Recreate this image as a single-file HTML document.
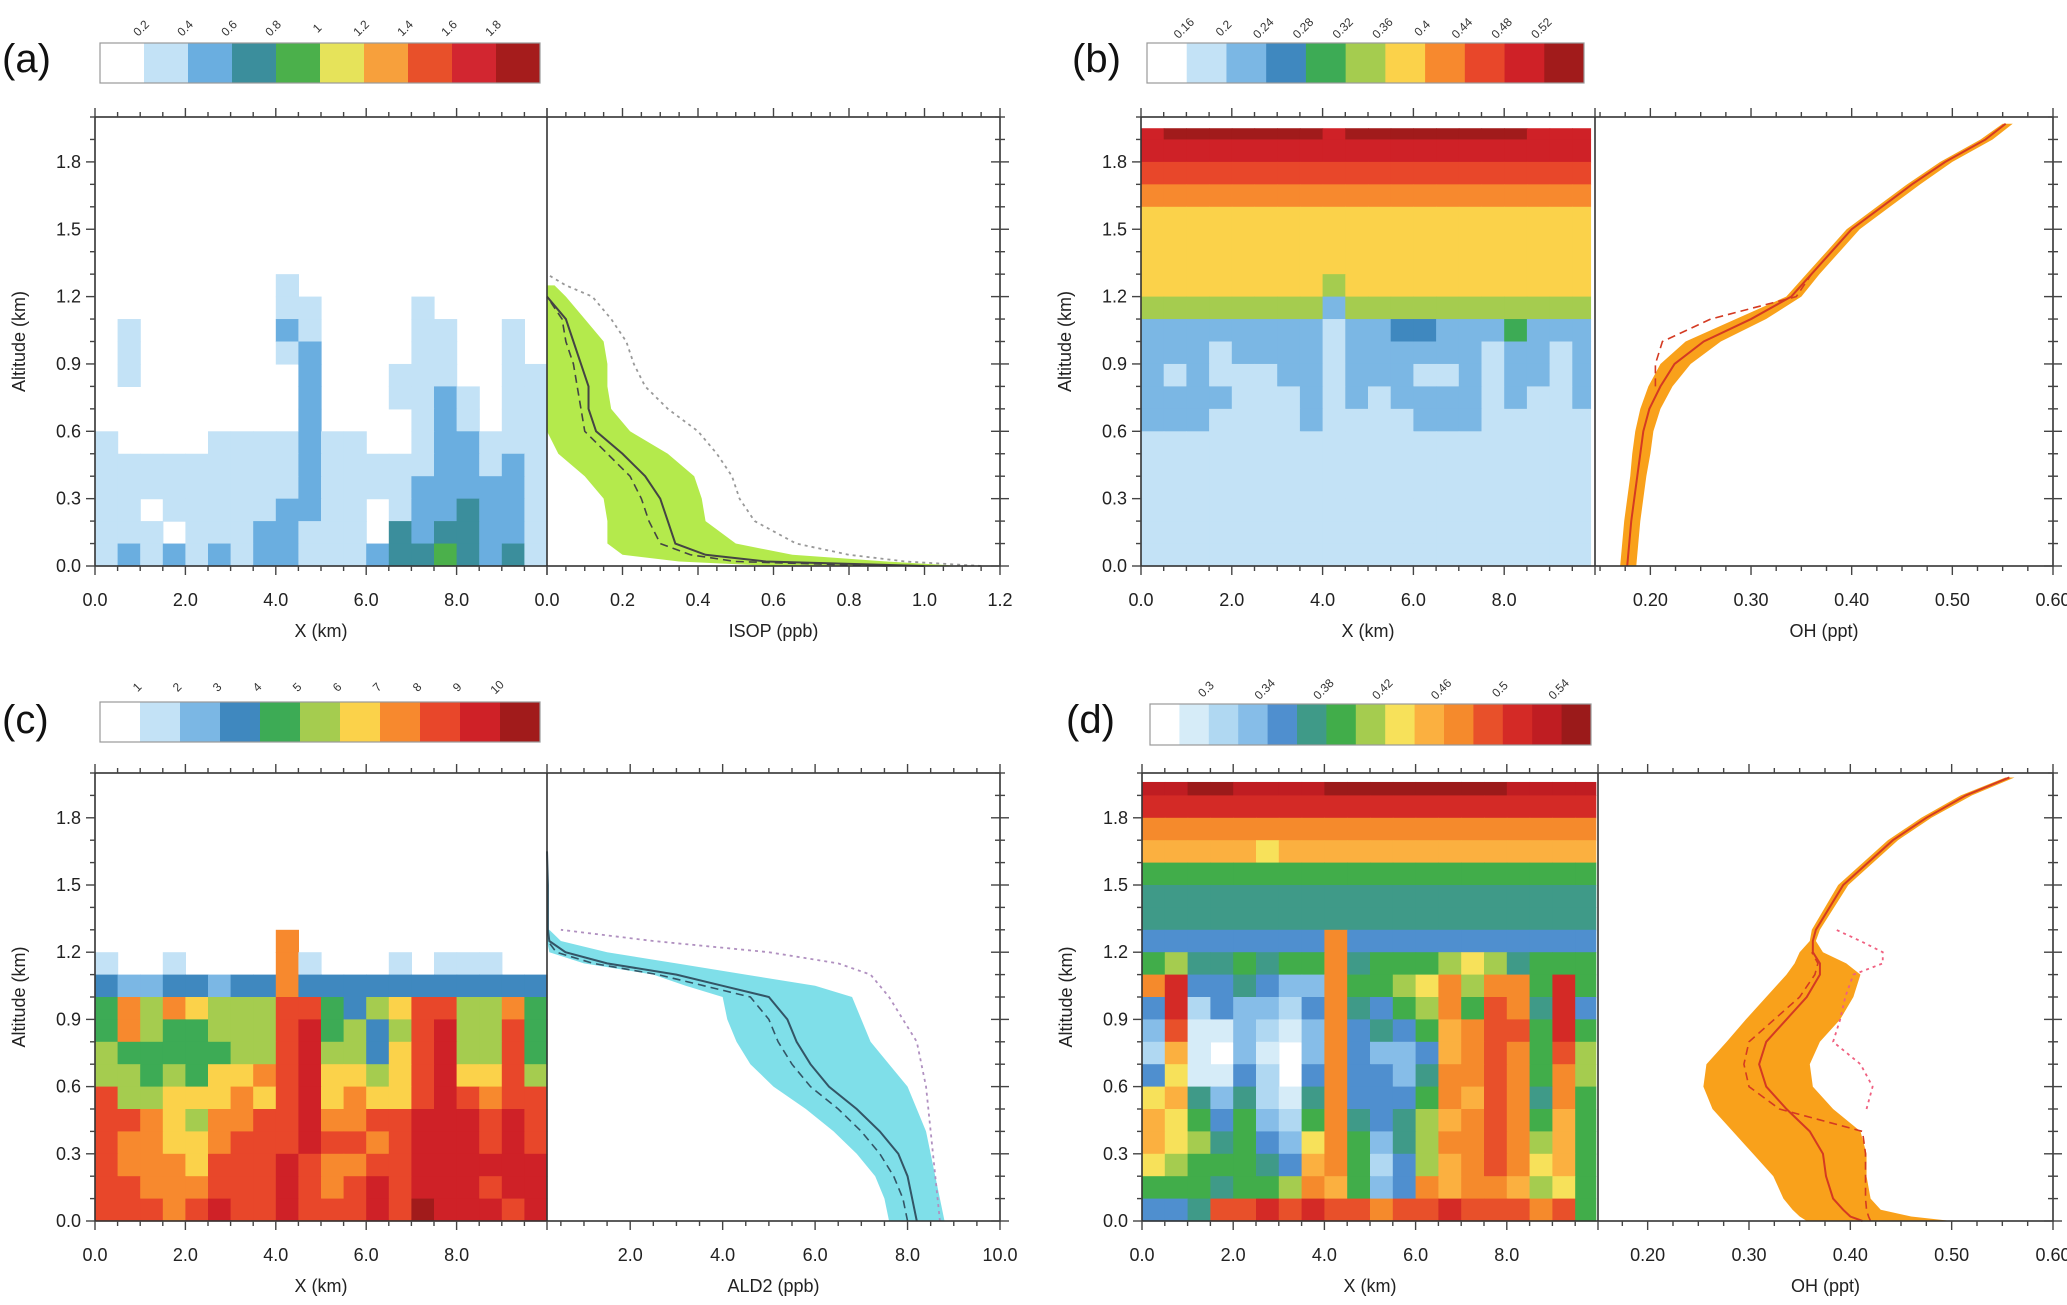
<!DOCTYPE html>
<html><head><meta charset="utf-8"><style>
html,body{margin:0;padding:0;background:#fff;}
svg{display:block;font-family:"Liberation Sans",sans-serif;}
</style></head><body>
<svg id="fig" xmlns="http://www.w3.org/2000/svg" width="2067" height="1305" viewBox="0 0 2067 1305"></svg>
<script>
// ---------- Heatmap data (rows top 2.0 km -> bottom, 0.1 km each; 20 cols of 0.5 km; hex level index) ----------
const aRows=["00000000000000000000","00000000000000000000","00000000000000000000","00000000000000000000","00000000000000000000","00000000000000000000","00000000000000000000","00000000100000000000","00000000110000100000","01000000210000110010","01000000120000110010","01000000020001110011","00000000020001121011","00000000020000121011","10000111121100122111","11111111121111122121","11111111121111222221","11011111221101223221","11101112211103233221","12121212211123343231"];
const bRows=["9aaaaaaa9aaaaaaaa999","99999999999999999999","88888888888888888888","77777777777777777777","66666666666666666666","66666666666666666666","66666666666666666666","66666666566666666666","55555555255555555555","22222222122332224222","22212222122222212212","21211122122211212212","22221112121222212112","22211112111122211111","11111111111111111111","11111111111111111111","11111111111111111111","11111111111111111111","11111111111111111111","11111111111111111111"];
const cRows=["00000000000000000000","00000000000000000000","00000000000000000000","00000000000000000000","00000000000000000000","00000000000000000000","00000000000000000000","00000000700000000000","10010000710001011100","32233233733333333333","47576555884356885574","47544555894535895584","54444455895536895584","55454667896656896685","85566676896766898788","88765778897788999898","87766788898878999898","87776888987788999999","88777888987898999899","88878988988898a99989"];
const dRows=["ddeeddddeeeeeeeedddd","cccccccccccccccccccc","aaaaaaaaaaaaaaaaaaaa","99999899999999999999","66666666666666666666","55555555555555555555","55555555555555555555","44444444a44444444444","67556566a56667875666","ac445433a6678a7aa6c6","4c243324a5467a6ba5c4","3b113213a45469abb6c6","29103103a43349aba6b7","48114204a4435aaba6a7","89535215a4446a9ba5a6","98646326a54579aba696","98756438a6357aaba796","87666549a62479aba896","6665667a9634a9aa9786","445bbcbcbbabbcbbbab6"];
// ---------- Profile data ----------
const aAlt =[0,0.02,0.05,0.1,0.2,0.3,0.4,0.5,0.6,0.7,0.8,0.9,1.0,1.1,1.2,1.25,1.3];
const aMean=[1.0,0.58,0.42,0.34,0.32,0.30,0.26,0.20,0.13,0.11,0.11,0.09,0.07,0.05,0.0,null,null];
const aDash=[0.9,0.5,0.38,0.30,0.27,0.25,0.22,0.16,0.10,0.09,0.08,0.07,0.05,0.04,0.0,null,null];
const aLo  =[0.6,0.35,0.2,0.16,0.16,0.15,0.10,0.03,0.0,0,0,0,0,0,0,0,null];
const aHi  =[1.1,0.9,0.65,0.5,0.42,0.41,0.39,0.32,0.22,0.17,0.16,0.16,0.15,0.10,0.05,0.02,null];
const aDot =[1.15,0.95,0.8,0.66,0.55,0.51,0.49,0.45,0.40,0.32,0.26,0.23,0.21,0.17,0.12,0.05,0.0];
const bAlt =[0,0.1,0.2,0.3,0.4,0.5,0.6,0.7,0.8,0.9,1.0,1.1,1.2,1.3,1.4,1.5,1.6,1.7,1.8,1.9,1.97];
const bMean=[0.177,0.179,0.181,0.184,0.187,0.19,0.193,0.199,0.21,0.224,0.253,0.30,0.34,0.36,0.38,0.40,0.43,0.46,0.493,0.533,0.553];
const bLo  =[0.170,0.172,0.174,0.177,0.18,0.182,0.185,0.19,0.198,0.21,0.235,0.285,0.335,0.355,0.375,0.395,0.425,0.455,0.488,0.528,0.55];
const bHi  =[0.186,0.188,0.19,0.193,0.196,0.2,0.203,0.21,0.222,0.24,0.27,0.315,0.35,0.368,0.388,0.408,0.438,0.468,0.5,0.54,0.56];
const bDash=[null,null,null,null,null,null,null,null,0.205,0.205,0.212,0.26,0.345,0.36,null,null,null,null,null,null,null];
const bDot =[null,null,null,null,null,null,null,null,null,null,null,null,null,null,null,null,null,null,null,null,null];
const cAlt =[0,0.1,0.2,0.3,0.4,0.5,0.6,0.7,0.8,0.9,1.0,1.05,1.1,1.15,1.2,1.25,1.3,1.5,1.65];
const cMean=[8.2,8.1,8.0,7.8,7.4,6.9,6.3,5.9,5.6,5.4,5.0,4.0,3.0,1.5,0.6,0.25,0.22,0.22,0.2];
const cDash=[8.0,7.9,7.7,7.4,7.0,6.5,5.9,5.5,5.2,5.0,4.6,3.6,2.6,1.2,0.4,0.22,null,null,null];
const cLo  =[7.6,7.5,7.3,6.9,6.4,5.8,5.1,4.6,4.3,4.1,4.0,3.2,2.5,1.0,0.25,0.2,0.2,null,null];
const cHi  =[8.8,8.7,8.6,8.5,8.4,8.2,8.0,7.6,7.2,7.0,6.8,6.0,4.5,3.0,1.5,0.5,0.25,null,null];
const cDot =[8.7,8.65,8.6,8.55,8.5,8.45,8.4,8.3,8.2,7.9,7.6,7.4,7.2,6.5,5.0,2.5,0.5,null,null];
const dAlt =[0,0.02,0.05,0.1,0.2,0.3,0.4,0.5,0.6,0.7,0.8,0.9,1.0,1.1,1.15,1.2,1.25,1.3,1.5,1.7,1.8,1.9,1.98];
const dMean=[0.412,0.40,0.393,0.383,0.376,0.373,0.36,0.337,0.317,0.31,0.317,0.337,0.357,0.37,0.37,0.363,0.363,0.366,0.393,0.442,0.475,0.514,0.557];
const dLo  =[0.357,0.35,0.343,0.334,0.324,0.304,0.284,0.264,0.255,0.258,0.278,0.297,0.317,0.337,0.345,0.35,0.36,0.362,0.388,0.437,0.47,0.509,0.553];
const dHi  =[0.50,0.46,0.43,0.42,0.416,0.416,0.41,0.383,0.363,0.36,0.37,0.39,0.403,0.41,0.396,0.373,0.366,0.37,0.398,0.447,0.48,0.52,0.562];
const dDash=[0.42,0.418,0.416,0.415,0.415,0.415,0.412,0.33,0.30,0.295,0.30,0.325,0.35,0.365,0.368,0.362,null,null,null,null,null,null,null];
const dDot =[null,null,null,null,null,null,null,0.416,0.422,0.41,0.383,0.39,0.395,0.403,0.432,0.432,0.41,0.386,null,null,null,null,null];
// ---------- Colorbar labels ----------
const aCbLabels=["0.2","0.4","0.6","0.8","1","1.2","1.4","1.6","1.8"];
const bCbLabels=["0.16","0.2","0.24","0.28","0.32","0.36","0.4","0.44","0.48","0.52"];
const cCbLabels=["1","2","3","4","5","6","7","8","9","10"];
const dCbLabels=["","0.3","","0.34","","0.38","","0.42","","0.46","","0.5","","0.54"];
const leftTicks=[0,2,4,6,8];
const aRightTicks=[0,0.2,0.4,0.6,0.8,1.0,1.2];
const bRightTicks=[0.2,0.3,0.4,0.5,0.6];
const cRightTicks=[2,4,6,8,10];
const yTicks=[0,0.3,0.6,0.9,1.2,1.5,1.8];

// ---------- styles ----------
const palA=["#ffffff","#c3e2f6","#6aaee0","#3b8e9c","#4bb04b","#e6e35a","#f7a03c","#e8502a","#d22630","#a51c1c"];
const palB=["#ffffff","#c3e2f6","#7bb7e4","#3f88bf","#3dab55","#a5cc4f","#fbd24a","#f7892e","#e8472a","#cf2127","#a11b1b"];
const palD=["#ffffff","#d6ecf8","#b0d8f2","#86bde8","#4f8fcf","#3f9a88","#41ad4a","#a5cc4f","#f7e15a","#fbb040","#f58a2c","#e8502a","#d42a26","#bf1d22","#9b1a1a"];

const svg=document.getElementById('fig');
const NS="http://www.w3.org/2000/svg";
function mk(tag,attrs,parent){const e=document.createElementNS(NS,tag);for(const k in attrs)e.setAttribute(k,attrs[k]);(parent||svg).appendChild(e);return e;}

const panels=[
 {id:'a',l:95,d:547,r:1000,t:117,b:566,r0:0,r1:1.2,rows:aRows,pal:palA,hmTop:2.0,hmRight:10,
  alt:aAlt,mean:aMean,dash:aDash,lo:aLo,hi:aHi,dot:aDot,band:"#b4ea4c",line:"#444",dotc:"#999",rt:aRightTicks,rfmt:1,rminor:0.05,
  cb:{x:100,y:43,w:440,h:40},cbl:aCbLabels,lab:{x:2,y:72},xt:"ISOP (ppb)"},
 {id:'b',l:1141,d:1595,r:2053,t:117,b:566,r0:0.145,r1:0.6,rows:bRows,pal:palB,hmTop:1.95,hmRight:9.9,
  alt:bAlt,mean:bMean,dash:bDash,lo:bLo,hi:bHi,dot:bDot,band:"#f9a11b",line:"#d43a22",dotc:"#f06080",rt:bRightTicks,rfmt:2,rminor:0.025,
  cb:{x:1147,y:43,w:437,h:40},cbl:bCbLabels,lab:{x:1072,y:72},xt:"OH (ppt)"},
 {id:'c',l:95,d:547,r:1000,t:773,b:1221,r0:0.2,r1:10,rows:cRows,pal:palB,hmTop:2.0,hmRight:10,
  alt:cAlt,mean:cMean,dash:cDash,lo:cLo,hi:cHi,dot:cDot,band:"#7fdfe9",line:"#335566",dotc:"#b090c0",rt:cRightTicks,rfmt:1,rminor:0.5,
  cb:{x:100,y:702,w:440,h:40},cbl:cCbLabels,lab:{x:2,y:733},xt:"ALD2 (ppb)"},
 {id:'d',l:1142,d:1598,r:2053,t:773,b:1221,r0:0.151,r1:0.6,rows:dRows,pal:palD,hmTop:1.96,hmRight:9.95,
  alt:dAlt,mean:dMean,dash:dDash,lo:dLo,hi:dHi,dot:dDot,band:"#f9a11b",line:"#d43a22",dotc:"#f06080",rt:bRightTicks,rfmt:2,rminor:0.025,
  cb:{x:1150,y:704,w:441,h:41},cbl:dCbLabels,lab:{x:1066,y:733},xt:"OH (ppt)"}
];

panels.forEach(p=>{
  const g=mk('g',{});
  
  
  const xL=v=>p.l+v/10*(p.d-p.l);
  const xR=v=>p.d+(v-p.r0)/(p.r1-p.r0)*(p.r-p.d);
  const y=k=>p.b-k/2.0*(p.b-p.t);
  const hm=mk('g',{},g);
  
  
  p.rows.forEach((row,i)=>{
    const kTop=Math.min(2.0-0.1*i,p.hmTop), kBot=2.0-0.1*(i+1);
    if(kTop<=kBot) return;
    for(let j=0;j<20;j++){
      const lv=parseInt(row[j]||'0',16);
      if(lv===0) continue;
      const x0=0.5*j, x1=Math.min(0.5*(j+1),p.hmRight);
      if(x1<=x0) continue;
      const r=mk('rect',{x:xL(x0),y:y(kTop),width:xL(x1)-xL(x0)+0.6,height:y(kBot)-y(kTop)+0.6,fill:p.pal[lv]},hm);
      
      
    }
  });
  const hiPts=[],loPts=[];
  p.alt.forEach((a,i)=>{ if(p.hi[i]!=null) hiPts.push(xR(p.hi[i])+','+y(a)); if(p.lo[i]!=null) loPts.push(xR(p.lo[i])+','+y(a)); });
  const band=mk('polygon',{points:hiPts.concat(loPts.reverse()).join(' '),fill:p.band},g);
  
  
  function line(arr,attrs,name){
    const segs=[];let cur=[];
    p.alt.forEach((a,i)=>{ if(arr[i]==null){ if(cur.length) segs.push(cur); cur=[]; } else cur.push(xR(arr[i])+','+y(a)); });
    if(cur.length) segs.push(cur);
    segs.forEach(s=>{ const pl=mk('polyline',Object.assign({points:s.join(' '),fill:'none'},attrs),g);
      
       });
  }
  line(p.dot,{stroke:p.dotc,'stroke-width':1.8,'stroke-dasharray':'3,4'},'profile-dotted-line');
  line(p.dash,{stroke:p.line,'stroke-width':1.6,'stroke-dasharray':'8,5'},'profile-dashed-line');
  line(p.mean,{stroke:p.line,'stroke-width':2},'profile-mean-line');
  const fr=mk('rect',{x:p.l,y:p.t,width:p.r-p.l,height:p.b-p.t,fill:'none',stroke:'#333','stroke-width':1.6},g);
  
  
  const dv=mk('line',{x1:p.d,x2:p.d,y1:p.t,y2:p.b,stroke:'#333','stroke-width':1.6},g);
  
  
  const tk=mk('g',{stroke:'#444','stroke-width':1.4},g);
  
  
  for(let v=0;v<=10.001;v+=0.5){const X=xL(v);const maj=Math.abs(v/2-Math.round(v/2))<1e-6;const L=maj?9:5;
    mk('line',{x1:X,x2:X,y1:p.b,y2:p.b+L},tk);mk('line',{x1:X,x2:X,y1:p.t,y2:p.t-L},tk);}
  for(let v=Math.ceil(p.r0/p.rminor)*p.rminor;v<=p.r1+1e-6;v+=p.rminor){const X=xR(v);const st=p.rt[1]-p.rt[0];const maj=Math.abs(v/st-Math.round(v/st))<1e-4;const L=maj?9:5;
    mk('line',{x1:X,x2:X,y1:p.b,y2:p.b+L},tk);mk('line',{x1:X,x2:X,y1:p.t,y2:p.t-L},tk);}
  for(let k=0;k<=2.0001;k+=0.1){const Y=y(k);const maj=Math.abs(k/0.3-Math.round(k/0.3))<1e-4;const L=maj?9:5;
    mk('line',{x1:p.l-L,x2:p.l,y1:Y,y2:Y},tk);mk('line',{x1:p.r,x2:p.r+L,y1:Y,y2:Y},tk);mk('line',{x1:p.r-L,x2:p.r,y1:Y,y2:Y},tk);}
  const fs=18;
  yTicks.forEach(k=>{const t=mk('text',{x:p.l-14,y:y(k)+6,'text-anchor':'end','font-size':fs,fill:'#222'},g);t.textContent=k.toFixed(1);
    
    });
  leftTicks.forEach(v=>{const t=mk('text',{x:xL(v),y:p.b+40,'text-anchor':'middle','font-size':fs,fill:'#222'},g);t.textContent=v.toFixed(1);
    
    });
  p.rt.forEach(v=>{const t=mk('text',{x:xR(v),y:p.b+40,'text-anchor':'middle','font-size':fs,fill:'#222'},g);t.textContent=v.toFixed(p.rfmt);
    
    });
  let t=mk('text',{x:(p.l+p.d)/2,y:p.b+71,'text-anchor':'middle','font-size':fs,fill:'#222'},g);t.textContent="X (km)";
  
  
  t=mk('text',{x:(p.d+p.r)/2,y:p.b+71,'text-anchor':'middle','font-size':fs,fill:'#222'},g);t.textContent=p.xt;
  
  
  const yc=(p.t+p.b)/2;
  t=mk('text',{x:p.l-70,y:yc,'text-anchor':'middle','font-size':fs,fill:'#222',transform:`rotate(-90 ${p.l-70} ${yc})`},g);t.textContent="Altitude (km)";
  
  
  t=mk('text',{x:p.lab.x,y:p.lab.y,'font-size':40,fill:'#111'},g);t.textContent='('+p.id+')';
  
  
  const cb=mk('g',{},g);
  
  
  const n=p.pal.length, bw=p.cb.w/n;
  p.pal.forEach((c,i)=>{const r=mk('rect',{x:p.cb.x+i*bw,y:p.cb.y,width:bw+0.5,height:p.cb.h,fill:c},cb);
    
    });
  mk('rect',{x:p.cb.x,y:p.cb.y,width:p.cb.w,height:p.cb.h,fill:'none',stroke:'#999','stroke-width':1.2},cb);
  p.cbl.forEach((s,i)=>{ if(!s) return; const X=p.cb.x+(i+1)*bw, Y=p.cb.y-12;
    const tt=mk('text',{x:X,y:Y,'text-anchor':'middle','font-size':12,fill:'#333',transform:`rotate(-45 ${X} ${Y})`},cb);tt.textContent=s;
    
    });
});
</script>
</body></html>
